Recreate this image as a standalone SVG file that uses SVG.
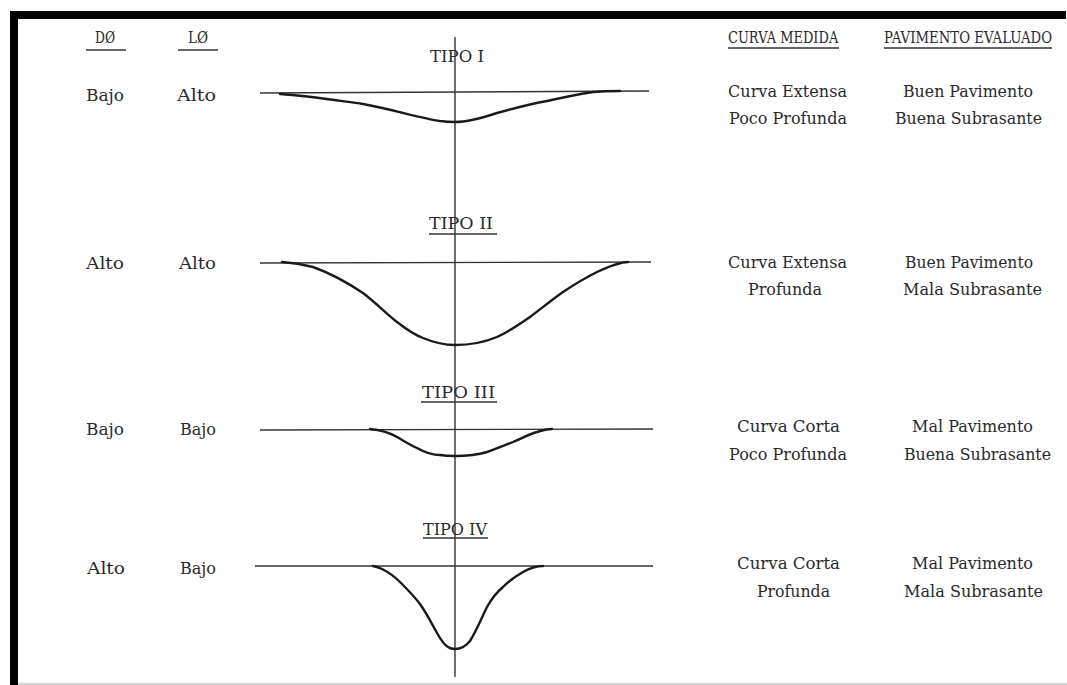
<svg xmlns="http://www.w3.org/2000/svg" width="1067" height="685" viewBox="0 0 1067 685">
<style>
text{font-family:"DejaVu Serif","Liberation Serif",serif;font-size:16px;fill:#2a2a2a}
.base{stroke:#333;stroke-width:1.4;fill:none}
.curve{stroke:#1a1a1a;stroke-width:2.4;fill:none;stroke-linecap:round;stroke-linejoin:round}
.ul{stroke:#333;stroke-width:1.6}
.axis{stroke:#333;stroke-width:1.4}
</style>
<rect width="1067" height="685" fill="#fff"/>
<g id="frame">
<rect x="10" y="11" width="1056" height="8" fill="#000"/>
<rect x="10" y="11" width="8" height="674" fill="#000"/>
<line x1="18" y1="684" x2="1067" y2="684" stroke="#aaa" stroke-width="1.2"/>
</g>
<g id="headers">
<text transform="translate(95 43) scale(0.77 1)" textLength="26" lengthAdjust="spacingAndGlyphs">DØ</text>
<line class="ul" x1="86" y1="50" x2="126" y2="50"/>
<text transform="translate(188 43) scale(0.87 1)" textLength="23" lengthAdjust="spacingAndGlyphs">LØ</text>
<line class="ul" x1="178" y1="50" x2="218" y2="50"/>
<text transform="translate(728 43) scale(0.74 1)" textLength="149" lengthAdjust="spacingAndGlyphs">CURVA MEDIDA</text>
<line class="ul" x1="728" y1="48" x2="839" y2="48"/>
<text transform="translate(884 43) scale(0.816 1)" textLength="206" lengthAdjust="spacingAndGlyphs">PAVIMENTO EVALUADO</text>
<line class="ul" x1="884" y1="48" x2="1052" y2="48"/>
</g>
<g id="axis">
<line class="axis" x1="455" y1="37" x2="455" y2="677"/>
</g>
<g id="tipo1">
<text x="430" y="62" textLength="54" lengthAdjust="spacingAndGlyphs">TIPO I</text>
<text x="86" y="101" textLength="38" lengthAdjust="spacingAndGlyphs">Bajo</text>
<text x="177" y="101" textLength="39" lengthAdjust="spacingAndGlyphs">Alto</text>
<line class="base" x1="260" y1="93" x2="649" y2="91"/>
<path class="curve" d="M280,94 C310,96 340,101 363,104 C395,110 420,118 440,121 C448,122 452,122 455,122 C470,122 485,117 497,113 C515,108 530,104 547,101 C565,97 580,94 593,92 C605,91 613,91 620,91"/>
<text x="728" y="97" textLength="119" lengthAdjust="spacingAndGlyphs">Curva Extensa</text>
<text x="729" y="124" textLength="118" lengthAdjust="spacingAndGlyphs">Poco Profunda</text>
<text x="903" y="97" textLength="130" lengthAdjust="spacingAndGlyphs">Buen Pavimento</text>
<text x="895" y="124" textLength="147" lengthAdjust="spacingAndGlyphs">Buena Subrasante</text>
</g>
<g id="tipo2">
<text x="429" y="229" textLength="64" lengthAdjust="spacingAndGlyphs">TIPO II</text>
<line class="ul" x1="429" y1="234" x2="497" y2="234"/>
<text x="86" y="269" textLength="38" lengthAdjust="spacingAndGlyphs">Alto</text>
<text x="179" y="269" textLength="37" lengthAdjust="spacingAndGlyphs">Alto</text>
<line class="base" x1="260" y1="263" x2="651" y2="262"/>
<path class="curve" d="M282,262 C295,263 305,265 313,267 C330,273 348,283 363,293 C376,303 388,315 397,322 C406,329 415,335 423,338 C435,343 445,345 455,345 C470,345 485,342 497,337 C510,331 520,324 530,317 C542,308 553,299 563,292 C575,284 587,277 597,272 C610,266 620,262 628,262"/>
<text x="728" y="268" textLength="119" lengthAdjust="spacingAndGlyphs">Curva Extensa</text>
<text x="748" y="295" textLength="74" lengthAdjust="spacingAndGlyphs">Profunda</text>
<text x="905" y="268" textLength="128" lengthAdjust="spacingAndGlyphs">Buen Pavimento</text>
<text x="903" y="295" textLength="139" lengthAdjust="spacingAndGlyphs">Mala Subrasante</text>
</g>
<g id="tipo3">
<text x="422" y="398" textLength="73" lengthAdjust="spacingAndGlyphs">TIPO III</text>
<line class="ul" x1="421" y1="402" x2="497" y2="402"/>
<text x="86" y="435" textLength="38" lengthAdjust="spacingAndGlyphs">Bajo</text>
<text x="180" y="435" textLength="36" lengthAdjust="spacingAndGlyphs">Bajo</text>
<line class="base" x1="260" y1="430" x2="653" y2="429"/>
<path class="curve" d="M370,429 C382,430 390,433 397,437 C404,441 410,445 417,448 C424,452 432,455 440,455 C446,456 450,456 455,456 C466,456 477,455 487,452 C496,449 505,445 513,442 C522,438 530,434 537,432 C543,430 548,429 552,429"/>
<text x="737" y="432" textLength="103" lengthAdjust="spacingAndGlyphs">Curva Corta</text>
<text x="729" y="460" textLength="118" lengthAdjust="spacingAndGlyphs">Poco Profunda</text>
<text x="912" y="432" textLength="121" lengthAdjust="spacingAndGlyphs">Mal Pavimento</text>
<text x="904" y="460" textLength="147" lengthAdjust="spacingAndGlyphs">Buena Subrasante</text>
</g>
<g id="tipo4">
<text x="423" y="535" textLength="64" lengthAdjust="spacingAndGlyphs">TIPO IV</text>
<line class="ul" x1="423" y1="538" x2="488" y2="538"/>
<text x="87" y="574" textLength="38" lengthAdjust="spacingAndGlyphs">Alto</text>
<text x="180" y="574" textLength="36" lengthAdjust="spacingAndGlyphs">Bajo</text>
<line class="base" x1="255" y1="566" x2="653" y2="566"/>
<path class="curve" d="M373,566 C378,567 380,568 382,569 C390,573 395,577 400,582 C408,590 414,596 420,604 C427,614 432,624 437,633 C441,640 444,645 448,647 C451,649 453,649 455,649 C460,649 466,646 470,641 C477,630 482,617 487,607 C492,598 497,592 503,587 C510,580 516,576 523,572 C530,568 537,566 543,566"/>
<text x="737" y="569" textLength="103" lengthAdjust="spacingAndGlyphs">Curva Corta</text>
<text x="757" y="597" textLength="73" lengthAdjust="spacingAndGlyphs">Profunda</text>
<text x="912" y="569" textLength="121" lengthAdjust="spacingAndGlyphs">Mal Pavimento</text>
<text x="904" y="597" textLength="139" lengthAdjust="spacingAndGlyphs">Mala Subrasante</text>
</g>
</svg>
